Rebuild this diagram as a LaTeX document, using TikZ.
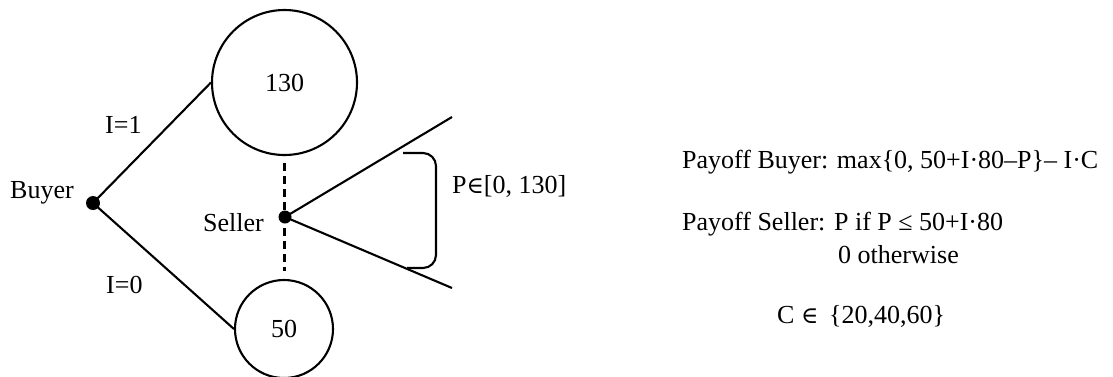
\documentclass[tikz,border=0pt]{standalone}
\usepackage{fontspec}
\setmainfont{Liberation Serif}
\newfontfamily\symf[Scale=0.9]{DejaVu Serif}
\newcommand\elem{{\symf ∈}}
\begin{document}
\begin{tikzpicture}[x=1pt,y=-1pt,
  lbl/.style={font=\fontsize{26}{30}\selectfont, inner sep=0pt},
  payoff/.style={circle, draw, line width=2.1pt, inner sep=0pt, font=\fontsize{26}{30}\selectfont},
  decision/.style={circle, fill=black, inner sep=0pt, minimum size=14pt},
  edge/.style={line width=2.1pt},
  info/.style={line width=2.1pt, dash pattern=on 8pt off 5pt}]
\useasboundingbox (0,0) rectangle (1113,376);
% nodes
\node[payoff, minimum size=145pt] (high) at (284.5,82.5) {130};
\node[payoff, minimum size=98pt] (low) at (284,329) {50};
\node[decision] (buyer) at (93,203) {};
\node[decision, minimum size=13pt] (seller) at (285,217) {};
\coordinate (up) at (452,117);
\coordinate (dn) at (452,288);
\coordinate (dtop) at (284.5,163);
\coordinate (dbot) at (284.5,271);
% edges
\draw[edge] (buyer.center) -- (high.west);
\draw[edge] (buyer.center) -- (low.west);
\draw[edge] (seller.center) -- (up);
\draw[edge] (seller.center) -- (dn);
\draw[info] (dtop) -- (dbot);
% bracket
\coordinate (b1) at (403,153);
\coordinate (b2) at (407,268);
\draw[edge, rounded corners=13pt] (b1) -- (436,153) -- (436,268) -- (b2);
% labels
\node[lbl, anchor=base west] (lb) at (10,198) {Buyer};
\node[lbl, anchor=base west] (ls) at (203,231) {Seller};
\node[lbl, anchor=base west] (li1) at (105,133) {I=1};
\node[lbl, anchor=base west] (li0) at (106,293) {I=0};
\node[lbl, anchor=base west] (lp) at (452,193) {P\elem[0, 130]};
\node[lbl, anchor=base west] (t1) at (682,168) {Payoff Buyer: max\{0, 50+I·80–P\}– I·C};
\node[lbl, anchor=base west] (t2) at (682,230) {Payoff Seller: P if P ≤ 50+I·80};
\node[lbl, anchor=base west] (t3) at (838,263) {0 otherwise};
\node[lbl, anchor=base west] (t4) at (777,323) {C \elem{}\, \{20,40,60\}};
\end{tikzpicture}
\end{document}
